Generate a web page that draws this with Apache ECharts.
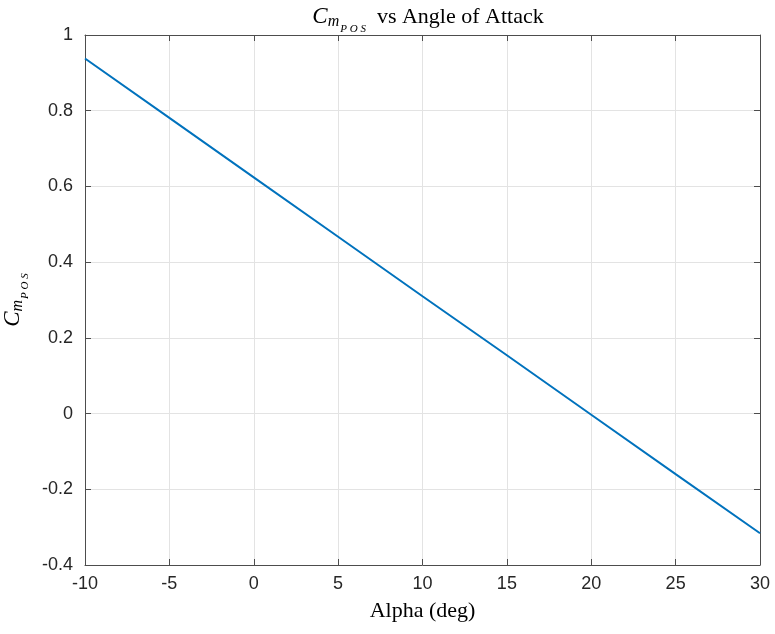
<!DOCTYPE html>
<html>
<head>
<meta charset="utf-8">
<script src="https://cdn.jsdelivr.net/npm/echarts@6/dist/echarts.min.js"></script>
<style>
  html, body { margin: 0; padding: 0; background: #fff; }
  #main { width: 775px; height: 634px; }
</style>
</head>
<body>
<div id="main"></div>
<script>
// values
var alpha = [-10, -5, 0, 5, 10, 15, 20, 25, 30];
var cmPos = [0.938, 0.781, 0.624, 0.467, 0.310, 0.154, -0.003, -0.160, -0.316];
var xTicks = [-10, 30, 5];      // min, max, step
var yTicks = [-0.4, 1, 0.2];

var serif = '"Liberation Serif", "DejaVu Serif", serif';
var sans = '"Liberation Sans", Arial, sans-serif';
var axisCol = '#4d4d4d';
var gridCol = '#e3e3e3';

var chart = echarts.init(document.getElementById('main'));

var mathRich = {
  c: { fontFamily: serif, fontStyle: 'italic', fontWeight: 'normal', fontSize: 23, color: '#000', lineHeight: 30, verticalAlign: 'middle' },
  m: { fontFamily: serif, fontStyle: 'italic', fontWeight: 'normal', fontSize: 16, color: '#000', lineHeight: 30, verticalAlign: 'bottom', padding: [0, 1, 2, 0] },
  p: { fontFamily: serif, fontStyle: 'italic', fontWeight: 'normal', fontSize: 11, color: '#000', lineHeight: 30, verticalAlign: 'bottom', padding: [0, 0, -3, 0] },
  t: { fontFamily: serif, fontWeight: 'normal', fontSize: 22, color: '#000', lineHeight: 30, verticalAlign: 'middle' }
};

var data = alpha.map(function (a, i) { return [a, cmPos[i]]; });

function frameAxis(pos) {
  return {
    type: 'value',
    position: pos,
    axisLine: { show: true, onZero: false, lineStyle: { color: axisCol, width: 1 } },
    axisTick: { show: true, inside: true, length: 6, lineStyle: { color: axisCol } },
    axisLabel: { show: false },
    splitLine: { show: false }
  };
}

var xTop = frameAxis('top');
xTop.min = xTicks[0]; xTop.max = xTicks[1]; xTop.interval = xTicks[2];
var yRight = frameAxis('right');
yRight.min = yTicks[0]; yRight.max = yTicks[1]; yRight.interval = yTicks[2];

chart.setOption({
  animation: false,
  title: {
    text: '{c|C}{m|m}{p|P O S}{t|  vs Angle of Attack}',
    left: 423,
    textAlign: 'center',
    top: -3,
    textStyle: { fontWeight: 'normal', rich: mathRich }
  },
  grid: { left: 85, right: 15, top: 35, bottom: 69, outerBoundsMode: 'none', containLabel: false },
  xAxis: [{
    type: 'value',
    position: 'bottom',
    min: xTicks[0], max: xTicks[1], interval: xTicks[2],
    name: 'Alpha (deg)',
    nameLocation: 'middle',
    nameGap: 35,
    nameTextStyle: { fontFamily: serif, fontSize: 22, color: '#000' },
    axisLine: { show: true, onZero: false, lineStyle: { color: axisCol, width: 1 } },
    axisTick: { show: true, inside: true, length: 6, lineStyle: { color: axisCol } },
    axisLabel: { fontFamily: sans, fontSize: 18, color: '#262626', margin: 10 },
    splitLine: { show: true, lineStyle: { color: gridCol, width: 1 } }
  }, xTop],
  yAxis: [{
    type: 'value',
    position: 'left',
    min: yTicks[0], max: yTicks[1], interval: yTicks[2],
    name: '{c|C}{m|m}{p|P O S}',
    nameLocation: 'middle',
    nameRotate: 90,
    nameGap: 42,
    nameTextStyle: { fontWeight: 'normal', rich: mathRich },
    axisLine: { show: true, onZero: false, lineStyle: { color: axisCol, width: 1 } },
    axisTick: { show: true, inside: true, length: 6, lineStyle: { color: axisCol } },
    axisLabel: {
      fontFamily: sans, fontSize: 18, color: '#262626', margin: 12,
      formatter: function (v) { return String(Math.round(v * 10) / 10); }
    },
    splitLine: { show: true, lineStyle: { color: gridCol, width: 1 } }
  }, yRight],
  series: [{
    type: 'line',
    data: data,
    showSymbol: false,
    lineStyle: { color: '#0072BD', width: 2 },
    itemStyle: { color: '#0072BD' }
  }]
});
</script>
</body>
</html>
